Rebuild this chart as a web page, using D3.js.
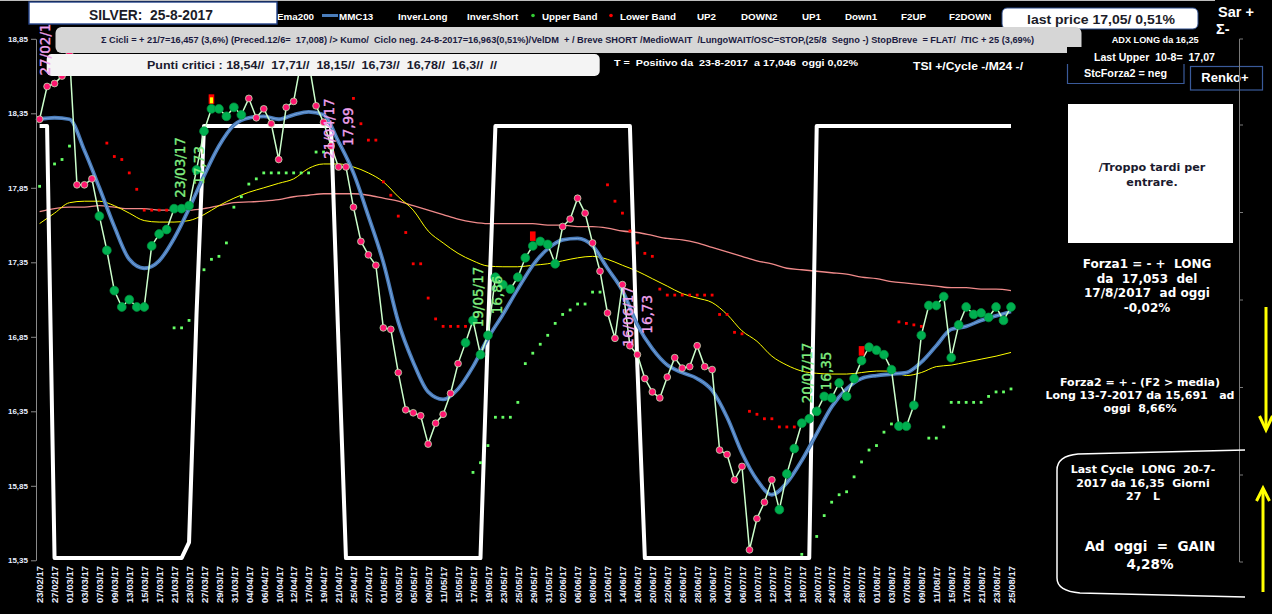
<!DOCTYPE html>
<html>
<head>
<meta charset="utf-8">
<script src="https://cdn.jsdelivr.net/npm/d3@7"></script>
<style>
  body { margin: 0; background: #000; overflow: hidden; }
  svg { display: block; }
  text { font-family: "Liberation Sans", Arial, sans-serif; font-weight: bold; white-space: pre; }
  .axis text { fill: #e8eeff; font-weight: bold; }
</style>
</head>
<body>
<svg id="chart" width="1272" height="614"></svg>
<script>
// one label every two sessions
const dateLabels = ['23/02/17','27/02/17','01/03/17','03/03/17','07/03/17','09/03/17','13/03/17','15/03/17','17/03/17','21/03/17',
  '23/03/17','27/03/17','29/03/17','31/03/17','04/04/17','06/04/17','10/04/17','12/04/17','17/04/17','19/04/17',
  '21/04/17','25/04/17','27/04/17','01/05/17','03/05/17','05/05/17','09/05/17','11/05/17','15/05/17','17/05/17',
  '19/05/17','23/05/17','25/05/17','29/05/17','31/05/17','02/06/17','06/06/17','08/06/17','12/06/17','14/06/17',
  '16/06/17','20/06/17','22/06/17','26/06/17','28/06/17','30/06/17','04/07/17','06/07/17','10/07/17','12/07/17',
  '14/07/17','18/07/17','20/07/17','24/07/17','26/07/17','28/07/17','01/08/17','03/08/17','07/08/17','09/08/17',
  '11/08/17','15/08/17','17/08/17','21/08/17','23/08/17','25/08/17'];

// daily close, one per session
const price = [18.31,18.53,18.55,18.60,18.75,17.87,17.87,17.91,17.66,17.43,
  17.16,17.05,17.10,17.05,17.05,17.46,17.54,17.57,17.71,17.71,
  17.73,17.97,18.23,18.38,18.38,18.33,18.39,18.34,18.45,18.32,
  18.38,18.28,18.04,18.39,18.43,18.70,18.70,18.40,18.29,18.13,
  17.99,17.99,17.72,17.49,17.40,17.33,16.91,16.90,16.61,16.36,
  16.34,16.32,16.13,16.27,16.33,16.47,16.67,16.81,16.96,16.73,
  16.86,17.25,17.20,17.17,17.25,17.38,17.46,17.49,17.47,17.34,
  17.59,17.64,17.78,17.68,17.48,17.29,17.01,16.84,17.20,16.79,
  16.73,16.57,16.48,16.44,16.58,16.71,16.64,16.65,16.79,16.65,
  16.63,16.09,16.06,15.89,15.98,15.42,15.63,15.74,15.89,15.69,
  15.93,16.10,16.27,16.30,16.35,16.45,16.44,16.54,16.45,16.57,
  16.69,16.78,16.76,16.73,16.63,16.25,16.25,16.39,16.86,17.06,
  17.06,17.12,16.71,16.93,17.05,17.00,17.01,16.98,17.05,16.96,
  17.05];

// sessions drawn with the red marker
const shortSpans = [[0, 7], [28, 56], [70, 98]];

// smooth averages, one value per date label
const mmc13 = [18.31,18.32,18.31,18.10,17.85,17.59,17.37,17.31,17.36,17.51,
  17.71,17.93,18.13,18.27,18.32,18.33,18.31,18.34,18.36,18.34,
  18.16,17.95,17.66,17.35,16.95,16.68,16.48,16.43,16.50,16.65,
  16.84,17.00,17.17,17.33,17.44,17.50,17.51,17.46,17.31,17.16,
  16.93,16.77,16.66,16.61,16.57,16.49,16.31,16.07,15.89,15.79,
  15.87,16.02,16.20,16.38,16.50,16.57,16.59,16.60,16.61,16.68,
  16.79,16.90,16.92,16.96,16.99,17.02];

const ema200 = [17.69,17.71,17.72,17.72,17.73,17.72,17.71,17.71,17.70,17.70,
  17.70,17.71,17.73,17.75,17.755,17.76,17.77,17.79,17.80,17.81,
  17.81,17.81,17.80,17.78,17.76,17.73,17.70,17.67,17.64,17.62,
  17.61,17.61,17.61,17.61,17.60,17.60,17.59,17.59,17.58,17.56,
  17.55,17.53,17.51,17.50,17.48,17.45,17.42,17.39,17.36,17.34,
  17.31,17.30,17.29,17.28,17.27,17.25,17.24,17.22,17.21,17.20,
  17.19,17.18,17.18,17.17,17.17,17.16];

const media = [17.61,17.68,17.75,17.76,17.76,17.73,17.68,17.63,17.62,17.62,
  17.63,17.67,17.73,17.78,17.82,17.85,17.88,17.91,17.98,18.01,
  18.01,17.99,17.95,17.89,17.79,17.70,17.56,17.48,17.41,17.36,
  17.325,17.32,17.32,17.33,17.34,17.36,17.38,17.39,17.37,17.33,
  17.29,17.24,17.19,17.14,17.11,17.08,17.00,16.89,16.82,16.72,
  16.66,16.62,16.605,16.60,16.60,16.61,16.62,16.62,16.59,16.61,
  16.65,16.66,16.68,16.70,16.72,16.745];

// [session, value]
const upperBand = [[0,17.86],[2,18.01],[3,18.04],[4,18.13],
  [18,16.91],[19,16.91],[20,16.96],[22,17.30],[23,17.37],[24,17.39],[25,17.48],[26,17.72],[27,17.79],
  [28,17.875],[29,17.91],[30,17.95],[31,17.95],[32,17.95],[33,17.95],[34,17.95],[35,17.95],[36,17.95],
  [37,18.09],[38,18.09],
  [58,15.94],[59,16.005],[60,16.12],[61,16.31],[62,16.31],[63,16.31],[64,16.41],[65,16.67],[66,16.74],
  [67,16.80],[68,16.86],[69,16.94],[70,17.00],[71,17.03],[72,17.07],[73,17.07],[74,17.15],[75,17.15],
  [102,15.39],[104,15.51],[105,15.65],[106,15.74],[107,15.79],[108,15.81],[109,15.91],[110,16.01],
  [111,16.09],[112,16.12],[113,16.21],[114,16.265],[119,16.17],[120,16.17],[121,16.245],[122,16.41],
  [123,16.41],[124,16.41],[125,16.41],[126,16.41],[127,16.45],[128,16.48],[129,16.48],[130,16.50]];

const lowerBand = [[9,18.15],[10,18.06],[11,18.04],[12,17.95],[13,17.84],[14,17.70],[15,17.70],[16,17.70],[17,17.70],
  [42,18.45],[43,18.28],[44,18.17],[45,18.17],[46,17.89],[47,17.80],[48,17.66],[49,17.55],[50,17.34],
  [51,17.34],[52,17.11],[53,16.97],[54,16.92],[55,16.92],[56,16.92],[57,16.92],
  [76,17.87],[77,17.76],[78,17.68],[79,17.56],[80,17.48],[81,17.41],[82,17.39],[83,17.17],[84,17.13],
  [85,17.13],[86,17.13],[87,17.13],[88,17.13],[89,17.13],[90,17.13],[91,17.00],[92,17.00],[93,16.88],
  [94,16.87],[95,16.35],[96,16.33],[97,16.30],[98,16.30],[99,16.245],[100,16.245],[101,16.245],
  [115,16.95],[116,16.94],[117,16.93],[118,16.92]];

// Inver.Long / Inver.Short square wave, [session, value]
const inverLine = [[0,18.265],[1,18.265],[2,15.365],[19,15.365],[20,15.47],[21,17.0],[22,18.265],
  [39,18.265],[40,16.8],[41,15.365],[59,15.365],[60,16.88],[61,18.265],[79,18.265],[80,16.65],
  [81,15.365],[103,15.365],[104,18.265],[130,18.265]];

const signals = [23, 66, 110];

// the value of the first turning point is hidden under the header in the original
const pivots = [
  { i: 2, date: '27/02/17', val: null, kind: 'top' },
  { i: 20, date: '23/03/17', val: '17,73', kind: 'low' },
  { i: 40, date: '21/04/17', val: '17,99', kind: 'top' },
  { i: 60, date: '19/05/17', val: '16,86', kind: 'low' },
  { i: 80, date: '16/06/17', val: '16,73', kind: 'top' },
  { i: 104, date: '20/07/17', val: '16,35', kind: 'low' },
];

const yTicks = [18.85, 18.35, 17.85, 17.35, 16.85, 16.35, 15.85, 15.35];

const legendItems = [
  { t: 'Ema200', x: 277 }, { t: 'MMC13', x: 339, swatch: 'line' }, { t: 'Inver.Long', x: 398 },
  { t: 'Inver.Short', x: 467 }, { t: 'Upper Band', x: 542, swatch: '#33cc33' },
  { t: 'Lower Band', x: 620, swatch: '#ff0000' }, { t: 'UP2', x: 697 }, { t: 'DOWN2', x: 741 },
  { t: 'UP1', x: 802 }, { t: 'Down1', x: 845 }, { t: 'F2UP', x: 901 }, { t: 'F2DOWN', x: 949 },
];

const svg = d3.select('#chart');
const x = d3.scaleLinear().domain([0, price.length - 1]).range([39.6, 1011]);
const y = d3.scaleLinear().domain([15.35, 18.85]).range([560.3, 38.8]);

svg.append('rect').attr('width', 1272).attr('height', 614).attr('fill', '#000');

const plot = svg.append('g');

const byLabel = d3.line().x((d, k) => x(k * 2)).y(d => y(d)).curve(d3.curveMonotoneX);
const byPair = d3.line().x(d => x(d[0])).y(d => y(d[1]));

plot.append('path').attr('d', byLabel(ema200))
  .attr('fill', 'none').attr('stroke', '#f08a8a').attr('stroke-width', 1.3);
plot.append('path').attr('d', byLabel(media))
  .attr('fill', 'none').attr('stroke', '#ffff00').attr('stroke-width', 1);

plot.append('path').attr('d', byPair(inverLine))
  .attr('fill', 'none').attr('stroke', '#fff').attr('stroke-width', 4)
  .attr('stroke-linejoin', 'round');

plot.selectAll('rect.ub').data(upperBand).enter().append('rect')
  .attr('x', d => x(d[0]) - 1.4).attr('y', d => y(d[1]) - 1.4)
  .attr('width', 2.8).attr('height', 2.8).attr('fill', '#66ff66');
plot.selectAll('rect.lb').data(lowerBand).enter().append('rect')
  .attr('x', d => x(d[0]) - 1.4).attr('y', d => y(d[1]) - 1.4)
  .attr('width', 2.8).attr('height', 2.8).attr('fill', '#ff0000');

plot.append('path').attr('d', byLabel(mmc13))
  .attr('fill', 'none').attr('stroke', '#4a7dbb').attr('stroke-width', 3.8);
plot.append('path').attr('d', byLabel(mmc13))
  .attr('fill', 'none').attr('stroke', '#7aa5dc').attr('stroke-width', 1);

const priceLine = d3.line().x((d, i) => x(i)).y(d => y(d));
plot.append('path').attr('d', priceLine(price))
  .attr('fill', 'none').attr('stroke', '#ccffcc').attr('stroke-width', 1.5);

const isShort = i => shortSpans.some(([a, b]) => i >= a && i <= b);
plot.selectAll('circle.p').data(price).enter().append('circle')
  .attr('cx', (d, i) => x(i)).attr('cy', d => y(d))
  .attr('r', (d, i) => isShort(i) ? 3.4 : 4.4)
  .attr('fill', (d, i) => isShort(i) ? '#ff1670' : '#00b050')
  .attr('stroke', (d, i) => isShort(i) ? '#bfffbf' : '#00953f')
  .attr('stroke-width', 0.7);

signals.forEach((i, n) => {
  const sx = x(i), sy = y(price[i]);
  plot.append('rect').attr('x', sx - 2.8).attr('y', sy - 14.5)
    .attr('width', 5.6).attr('height', 9.5).attr('fill', '#ff0000');
  if (n === 0) {
    plot.append('rect').attr('x', sx - 1.6).attr('y', sy - 11.5)
      .attr('width', 3.2).attr('height', 6).attr('fill', '#ffff00');
  }
});

// axes
const yAxis = svg.append('g').attr('class', 'axis').attr('transform', 'translate(36,0)')
  .call(d3.axisLeft(y).tickValues(yTicks).tickSize(5).tickSizeOuter(0)
    .tickFormat(d => d.toFixed(2).replace('.', ',')));
yAxis.select('.domain').attr('stroke', '#8a8a8a');
yAxis.selectAll('.tick line').attr('stroke', '#8a8a8a');
yAxis.selectAll('text').attr('font-size', 8).attr('x', -8);

const xAxis = svg.append('g').attr('class', 'axis').attr('transform', 'translate(0,563)')
  .call(d3.axisBottom(x).tickValues(d3.range(0, price.length, 2)).tickSize(0)
    .tickFormat(d => dateLabels[d / 2]));
xAxis.select('.domain').remove();
xAxis.selectAll('text').attr('font-size', 9.5).attr('text-anchor', 'start')
  .attr('transform', 'rotate(-90)').attr('x', -40).attr('y', 0).attr('dy', '0.35em');

// header
function label(parent, s, px, py, size, opt = {}) {
  const t = parent.append('text').attr('x', px).attr('y', py).attr('font-size', size)
    .attr('fill', opt.fill || '#fff').attr('text-anchor', opt.anchor || 'start').text(s);
  if (opt.len) t.attr('textLength', opt.len).attr('lengthAdjust', 'spacingAndGlyphs');
  if (opt.family) t.style('font-family', opt.family);
  return t;
}

const head = svg.append('g');
head.append('line').attr('x1', 0).attr('x2', 1215).attr('y1', 0.5).attr('y2', 0.5)
  .attr('stroke', '#bdbdbd');

legendItems.forEach(d => {
  label(head, d.t, d.x, 19.5, 9.8);
  if (d.swatch === 'line') {
    head.append('line').attr('x1', d.x - 17).attr('x2', d.x - 1).attr('y1', 15.5).attr('y2', 15.5)
      .attr('stroke', '#4a7dbb').attr('stroke-width', 3);
  } else if (d.swatch) {
    head.append('circle').attr('cx', d.x - 9).attr('cy', 15.5).attr('r', 1.8).attr('fill', d.swatch);
  }
});

head.append('rect').attr('x', 1002).attr('y', 8).attr('width', 196).attr('height', 21).attr('rx', 5)
  .attr('fill', '#fff').attr('stroke', '#2a4a8a');
label(head, 'last price 17,05/ 0,51%', 1101, 23.5, 13, { anchor: 'middle', fill: '#1c1c28', len: 148 });

label(head, 'Sar +', 1218, 17, 14.5);
label(head, 'Σ-', 1216, 34, 14.5);

head.append('rect').attr('x', 55.5).attr('y', 27).attr('width', 1026).attr('height', 26).attr('rx', 6)
  .attr('fill', '#d6d6d6');
label(head, 'Σ Cicli = + 21/7=16,457 (3,6%) (Preced.12/6=  17,008) /> Kumo/  Ciclo neg. 24-8-2017=16,963(0,51%)/VelDM  + / Breve SHORT /MedioWAIT  /LungoWAIT/OSC=STOP,(25/8  Segno -) StopBreve  = FLAT/  /TIC + 25 (3,69%)',
  101, 42.5, 8.2, { fill: '#1a1a40', len: 933 });

head.append('rect').attr('x', 1067).attr('y', 47).attr('width', 172).attr('height', 45).attr('fill', '#000');

head.append('rect').attr('x', 46.7).attr('y', 54).attr('width', 553).attr('height', 22).attr('rx', 5)
  .attr('fill', '#f4f4f4');
label(head, 'Punti critici : 18,54//  17,71//  18,15//  16,73//  16,78//  16,3//  //', 147, 68.5, 11,
  { fill: '#1a1a2e', len: 350 });

label(head, 'T =  Positivo da  23-8-2017  a 17,046  oggi 0,02%', 614, 65.5, 9, { len: 244 });
label(head, 'TSI +/Cycle -/M24 -/', 913, 69.5, 11, { len: 110 });
label(head, 'ADX LONG da 16,25', 1111.7, 42.5, 8.5, { len: 87 });
label(head, 'Last Upper  10-8=  17,07', 1094, 60.5, 10, { len: 121 });

head.append('path').attr('d', 'M1067.5,64 V83.5 H1184 V64').attr('fill', 'none')
  .attr('stroke', '#3a5a9a').attr('stroke-width', 1.2);
label(head, 'StcForza2 = neg', 1084, 76.5, 10, { len: 83 });

head.append('rect').attr('x', 1190.5).attr('y', 66.5).attr('width', 72).attr('height', 23.5)
  .attr('fill', '#000').attr('stroke', '#3a5a9a').attr('stroke-width', 1.2);
label(head, 'Renko+', 1225, 82, 13, { anchor: 'middle' });

// turning-point labels sit over the info boxes, under the title box
const pivotFont = '"DejaVu Sans", sans-serif';
const tags = svg.append('g');
function tag(s, tx, ty, col) {
  tags.append('text').attr('transform', `translate(${tx},${ty}) rotate(-90)`)
    .style('font-family', pivotFont).style('font-weight', 'normal')
    .attr('font-size', 13.5).attr('fill', col)
    .attr('stroke', col).attr('stroke-width', 0.35).text(s);
}
pivots.forEach(p => {
  const px = x(p.i), py = y(price[p.i]);
  const col = p.kind === 'top' ? '#f0a2ee' : '#80ee80';
  tag(p.date, px - 4.5, py - 8, col);
  if (p.val) tag(p.val, px + 14.5, py - 21, col);
});

const title = svg.append('g');
title.append('rect').attr('x', 29).attr('y', 2).attr('width', 248).attr('height', 22)
  .attr('fill', '#fff').attr('stroke', '#24438a').attr('stroke-width', 1.4);
label(title, 'SILVER:  25-8-2017', 151, 19.5, 13.8, { anchor: 'middle', fill: '#1c1c28' });

// right side
const side = svg.append('g');
const sideFont = '"DejaVu Sans", sans-serif';
side.append('line').attr('x1', 1239.5).attr('x2', 1239.5).attr('y1', 39).attr('y2', 562)
  .attr('stroke', '#7a7a7a');
[39, 125, 212.5, 300, 387.5, 475, 562].forEach(t => {
  side.append('line').attr('x1', 1239.5).attr('x2', 1243).attr('y1', t).attr('y2', t).attr('stroke', '#7a7a7a');
});

side.append('rect').attr('x', 1068).attr('y', 104).attr('width', 165).attr('height', 139).attr('fill', '#fff');
label(side, '/Troppo tardi per', 1152, 171, 11.2, { anchor: 'middle', fill: '#1a1a2e', family: sideFont });
label(side, 'entrare.', 1152, 185.5, 11.2, { anchor: 'middle', fill: '#1a1a2e', family: sideFont });

['Forza1 = - +  LONG', 'da  17,053  del', '17/8/2017  ad oggi', '-0,02%'].forEach((s, n) => {
  label(side, s, 1147, 268 + n * 14.7, 12, { anchor: 'middle', family: sideFont });
});
['Forza2 = + - (F2 > media)', 'Long 13-7-2017 da 15,691   ad', 'oggi  8,66%'].forEach((s, n) => {
  label(side, s, 1140, 386 + n * 13.2, 11, { anchor: 'middle', family: sideFont });
});

side.append('path')
  .attr('d', 'M1245,450 L1078,454 Q1057,456 1057,470 L1057,578 Q1057,591 1080,593 L1245,597')
  .attr('fill', 'none').attr('stroke', '#fff').attr('stroke-width', 1.5);
['Last Cycle  LONG  20-7-', '2017 da 16,35  Giorni', '27   L'].forEach((s, n) => {
  label(side, s, 1143, 473 + n * 13.5, 11, { anchor: 'middle', family: sideFont });
});
label(side, 'Ad  oggi  =  GAIN', 1150, 551, 13.5, { anchor: 'middle', family: sideFont });
label(side, '4,28%', 1150, 569, 13.5, { anchor: 'middle', family: sideFont });

const arrow = side.append('g').attr('stroke', '#ffff00').attr('stroke-width', 3).attr('fill', 'none');
arrow.append('line').attr('x1', 1266).attr('x2', 1266).attr('y1', 307).attr('y2', 428);
arrow.append('polyline').attr('points', '1259.5,416 1266,430 1272.5,416');
arrow.append('line').attr('x1', 1263).attr('x2', 1263).attr('y1', 490).attr('y2', 592);
arrow.append('polyline').attr('points', '1256.5,501 1263,488 1269.5,501');
</script>
</body>
</html>
